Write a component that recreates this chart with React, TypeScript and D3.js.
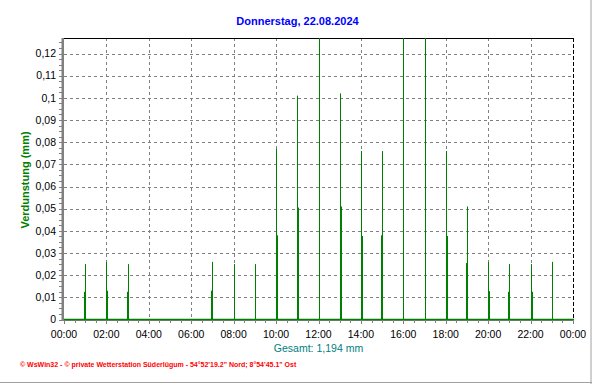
import React from "react";
import * as d3 from "d3";

const W = 592;
const H = 384;

const titleText = "Donnerstag, 22.08.2024";
const yAxisTitle = "Verdunstung  (mm)";
const totalText = "Gesamt: 1,194 mm";
const footerText = "\u00a9 WsWin32  -  \u00a9 private Wetterstation S\u00fcderl\u00fcgum  -  54\u00b052'19.2\" Nord; 8\u00b054'45.1\" Ost";

const yTicks = [0, 0.01, 0.02, 0.03, 0.04, 0.05, 0.06, 0.07, 0.08, 0.09, 0.1, 0.11, 0.12];
const xTickLabels = ["00:00", "02:00", "04:00", "06:00", "08:00", "10:00", "12:00", "14:00", "16:00", "18:00", "20:00", "22:00", "00:00"];

// main (thin) readings at full hours
const mainTimes = ["01:00", "02:00", "03:00", "07:00", "08:00", "09:00", "10:00", "11:00", "12:00", "13:00", "14:00", "15:00", "16:00", "17:00", "18:00", "19:00", "20:00", "21:00", "22:00", "23:00"];
const mainValues = [0.025, 0.026, 0.025, 0.026, 0.025, 0.025, 0.077, 0.101, 0.15, 0.102, 0.076, 0.076, 0.15, 0.15, 0.076, 0.051, 0.026, 0.025, 0.025, 0.026];

// secondary readings next to the hour marks
const secTimes = ["00:57", "02:03", "02:57", "06:57", "10:03", "11:03", "13:03", "14:03", "14:57", "18:03", "18:57", "20:03", "20:57", "22:03"];
const secValues = [0.0125, 0.013, 0.0125, 0.013, 0.038, 0.0505, 0.051, 0.0377, 0.038, 0.0377, 0.0255, 0.0128, 0.0125, 0.0125];

const toHours = (s: string) => {
  const [h, m] = s.split(":").map(Number);
  return h + m / 60;
};

const FONT = "'Liberation Sans', Arial, sans-serif";

export default function App() {
  const left = 64;
  const right = 573;
  const top = 38;
  const bottom = 319.5;
  const yMax = 0.127;

  const x = d3.scaleLinear().domain([0, 24]).range([left, right]);
  const y = d3.scaleLinear().domain([0, yMax]).range([bottom, top]);

  const minorY = d3.range(0, yMax + 1e-9, 0.0025);
  const minorX = d3.range(0, 24.001, 0.5);
  const gridX = d3.range(2, 24, 2);

  const clip = (v: number) => Math.min(v, yMax);

  return (
    <svg
      width={W}
      height={H}
      style={{ position: "absolute", left: 0, top: 0, background: "#fff" }}
      fontFamily={FONT}
    >
      <rect x={0} y={0} width={W} height={H} fill="#fff" />
      {/* window frame lines */}
      <line x1={591} y1={0} x2={591} y2={H} stroke="#a0a0a0" strokeWidth={1} />
      <line x1={0} y1={382.5} x2={W} y2={382.5} stroke="#a0a0a0" strokeWidth={1} />

      {/* title */}
      <text x={297.5} y={25} textAnchor="middle" fontSize={11} fontWeight="bold" fill="#0000ff">
        {titleText}
      </text>

      {/* horizontal grid */}
      {yTicks.slice(1).map((t) => (
        <line key={"hg" + t} x1={left} x2={right} y1={Math.round(y(t)) + 0.5} y2={Math.round(y(t)) + 0.5}
          stroke="#808080" strokeDasharray="3,3" strokeWidth={1} />
      ))}
      {/* vertical grid */}
      {gridX.map((h) => (
        <line key={"vg" + h} x1={Math.round(x(h)) + 0.5} x2={Math.round(x(h)) + 0.5} y1={top} y2={bottom}
          stroke="#808080" strokeDasharray="3,3" strokeWidth={1} />
      ))}

      {/* top & right frame */}
      <line x1={left} x2={right + 1} y1={top + 0.5} y2={top + 0.5} stroke="#000" strokeWidth={1} />
      <line x1={right + 0.5} x2={right + 0.5} y1={top} y2={bottom} stroke="#000" strokeWidth={1} strokeDasharray="4,2" />

      {/* bars */}
      {secTimes.map((t, i) => {
        const px = Math.round(x(toHours(t)));
        return (
          <rect key={"s" + i} x={px} y={y(clip(secValues[i]))} width={1} height={bottom - y(clip(secValues[i]))} fill="#008000" />
        );
      })}
      {mainTimes.map((t, i) => {
        const px = Math.round(x(toHours(t)));
        return (
          <rect key={"m" + i} x={px} y={y(clip(mainValues[i]))} width={1} height={bottom - y(clip(mainValues[i]))} fill="#008000" />
        );
      })}

      {/* bottom axis */}
      <line x1={left} x2={right + 1} y1={320.5} y2={320.5} stroke="#808080" strokeWidth={1} />
      <line x1={left} x2={right + 1} y1={319.5} y2={319.5} stroke="#008000" strokeWidth={1.5} />
      {minorX.map((h) => (
        <line key={"xt" + h} x1={Math.round(x(h)) + 0.5} x2={Math.round(x(h)) + 0.5} y1={320} y2={h % 2 === 0 ? 324 : 323}
          stroke="#808080" strokeWidth={1} />
      ))}
      {xTickLabels.map((lab, i) => (
        <text key={"xl" + i} x={x(i * 2)} y={337.5} textAnchor="middle" fontSize={10.5} fill="#000">
          {lab}
        </text>
      ))}

      {/* left axis */}
      <rect x={61.5} y={top} width={2.5} height={bottom - top + 1.5} fill="#808080" />
      {minorY.map((v, i) => (
        <line key={"yt" + i} x1={59} x2={62} y1={Math.round(y(v)) + 0.5} y2={Math.round(y(v)) + 0.5}
          stroke="#808080" strokeWidth={1} />
      ))}
      {yTicks.map((t) => (
        <text key={"yl" + t} x={56} y={y(t) + 3.8} textAnchor="end" fontSize={10.5} fill="#000">
          {d3.format(".2~f")(t).replace(".", ",")}
        </text>
      ))}

      {/* y axis title */}
      <text transform="translate(29,180) rotate(-90)" textAnchor="middle" fontSize={11} fontWeight="bold" fill="#008000">
        {yAxisTitle}
      </text>

      {/* total */}
      <text x={318.5} y={352} textAnchor="middle" fontSize={10.5} fill="#008080">
        {totalText}
      </text>

      {/* footer */}
      <text x={20} y={367} fontSize={7} fontWeight="bold" fill="#ff0000">
        {footerText}
      </text>
    </svg>
  );
}
